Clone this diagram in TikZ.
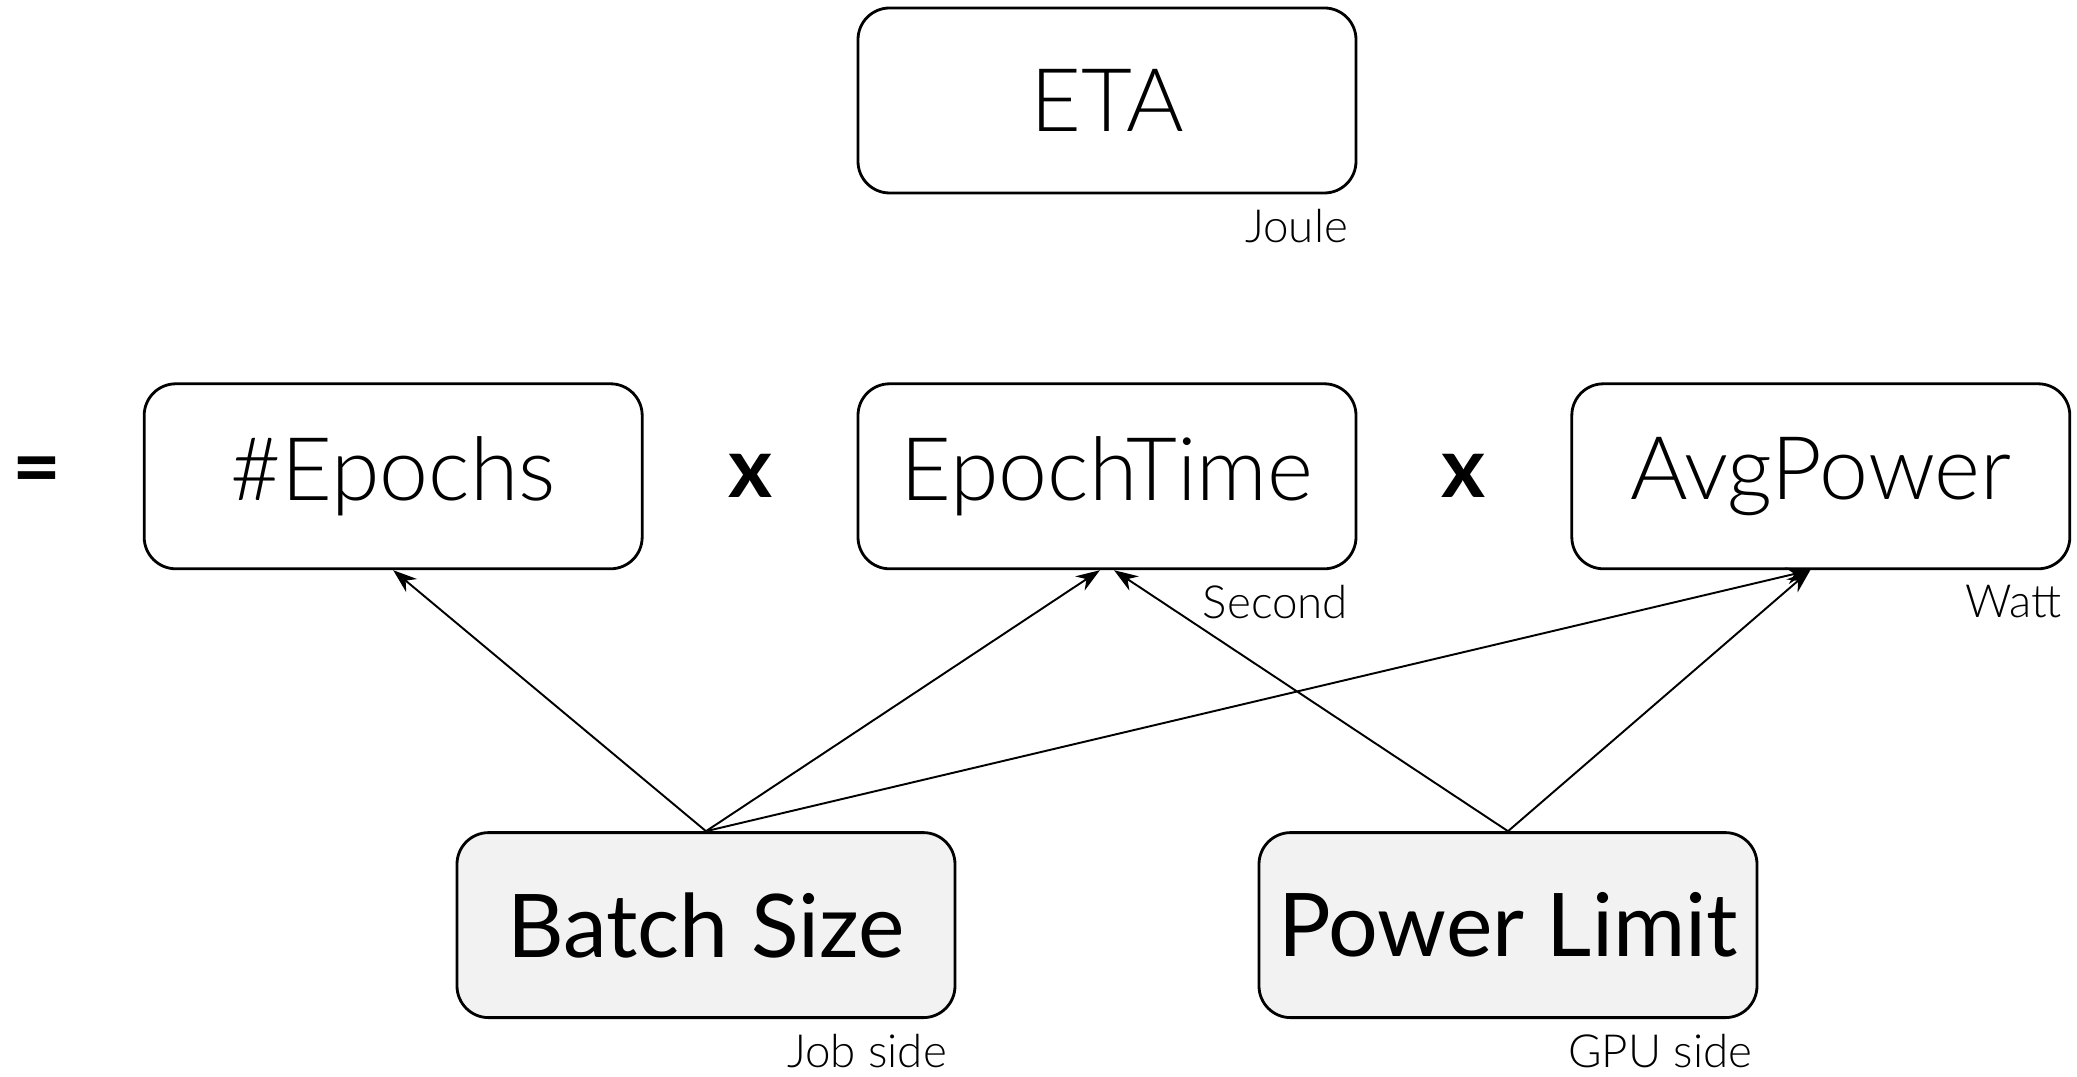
\documentclass[tikz,border=0pt]{standalone}
\usepackage{fontspec}
\setmainfont{Lato}
\newfontfamily\lightfont{Lato Light}
\usetikzlibrary{positioning, arrows.meta, calc}

\begin{document}
\begin{tikzpicture}[
    font=\fontsize{25}{30}\selectfont,
    box/.style={draw, line width=0.8pt, rounded corners=9pt, minimum width=4.98cm, minimum height=1.85cm, inner sep=0pt, font=\fontsize{25}{30}\selectfont\lightfont},
    knob/.style={box, fill=black!5, font=\fontsize{25}{30}\selectfont},
    unit/.style={font=\fontsize{13}{15}\selectfont\lightfont, anchor=north east, inner sep=4pt},
    op/.style={font=\fontsize{24}{28}\selectfont\bfseries, inner sep=0pt},
    ar/.style={-{Stealth[length=2.4mm, width=1.7mm]}, line width=0.55pt},
    node distance=1.88cm and 2.13cm]
  \useasboundingbox (0,0) rectangle (20.77,10.77);
  % energy-to-accuracy and its factors
  \node[box] (eta) at (11.07,9.765) {ETA};
  \node[box, below=of eta] (et) {EpochTime};
  \node[box, left=of et] (ep) {\#Epochs};
  \node[box, right=of et] (ap) {AvgPower};
  \node[op] (eq) at ($(ep.west)+(-1.06,0)$) {=};
  \node[op] (x1) at ($(ep.east)!0.5!(et.west)$) {x};
  \node[op] (x2) at ($(et.east)!0.5!(ap.west)$) {x};
  % knobs
  \node[knob, below=2.61cm of et, xshift=-4.01cm] (bs) {Batch Size};
  \node[knob, below=2.61cm of et, xshift=4.01cm] (pl) {Power Limit};
  % units
  \node[unit, xshift=1.5pt] (joule) at (eta.south east) {Joule};
  \node[unit, xshift=1.5pt] (sec) at (et.south east) {Second};
  \node[unit, xshift=1.5pt] (watt) at (ap.south east) {Watt};
  \node[unit, xshift=1.5pt] (job) at (bs.south east) {Job side};
  \node[unit, xshift=2.5pt] (gpu) at (pl.south east) {GPU side};
  % dependencies
  \draw[ar] (bs.north) -- (ep.south);
  \draw[ar] (bs.north) -- ([xshift=-2pt]et.south);
  \draw[ar] (bs.north) -- ([xshift=-3pt]ap.south);
  \draw[ar] (pl.north) -- ([xshift=2pt]et.south);
  \draw[ar] (pl.north) -- ([xshift=-3pt]ap.south);
\end{tikzpicture}
\end{document}
